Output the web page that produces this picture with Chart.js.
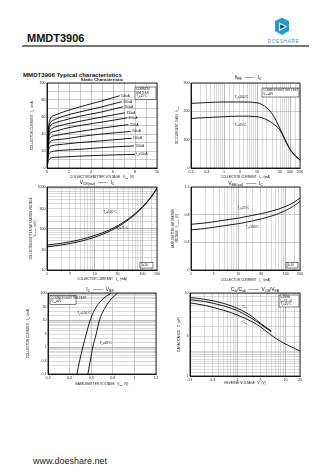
<!DOCTYPE html>
<html>
<head>
<meta charset="utf-8">
<script src="https://cdn.jsdelivr.net/npm/chart.js@4.4.1/dist/chart.umd.min.js"></script>
<style>
  body { margin: 0; width: 336px; height: 474px; background: #fff; position: relative; overflow: hidden;
         font-family: "Liberation Sans", Arial, sans-serif; color: #111; }
  .abs { position: absolute; line-height: 1; white-space: nowrap; }
  canvas { position: absolute; }
</style>
</head>
<body>
<div class="abs" style="left:27px;top:32.7px;font-size:11px;font-weight:bold">MMDT3906</div>
<div class="abs" style="left:22px;top:45.3px;width:287px;height:1.4px;background:#777"></div>
<svg class="abs" style="left:262px;top:17px" width="46" height="28" viewBox="0 0 46 28">
  <path d="M13 4 L20 0.8 L27 4 L27 14 L20 18 L13 14 Z" fill="#1e9fcf"/>
  <path d="M17 5.5 L25 9.5 L17 14 Z" fill="#fff"/>
  <path d="M18.2 7.2 L23 9.5 L18.2 12.2 Z" fill="#1d3f7a"/>
  <text x="21.5" y="25.5" font-size="4.6" fill="#3b8fd6" text-anchor="middle" letter-spacing="0.7" font-family="Liberation Sans, Arial">DOESHARE</text>
</svg>
<div class="abs" style="left:23px;top:72.3px;font-size:6.1px;font-weight:bold">MMDT3906 Typical characteristics</div>
<div class="abs" style="left:33px;top:457.4px;font-size:9px;color:#222">www.doeshare.net</div>

<canvas id="c1"></canvas>
<canvas id="c2"></canvas>
<canvas id="c3"></canvas>
<canvas id="c4"></canvas>
<canvas id="c5"></canvas>
<canvas id="c6"></canvas>

<script>
// ---- Static characteristic: IC (mA) vs VCE (V), one curve per IB ----
const ibNames = ['500uA', '450uA', '400uA', '350uA', '300uA', '250uA', '200uA', '150uA', '100uA', 'IB=50uA'];
const vceKnee = [0, 0.08, 0.15, 0.25, 0.4, 0.7, 1.5, 3, 5];
const vceEnd = [6.6, 6.8, 6.9, 7.1, 7.3, 7.4, 7.6, 7.7, 7.9, 8.0];
const ic500 = [0, 30, 48, 56, 60, 62, 66, 72, 79, 85];
const ic450 = [0, 28, 45, 52, 55, 57, 61, 66, 72, 78];
const ic400 = [0, 26, 42, 48, 51, 53, 56, 61, 66, 72];
const ic350 = [0, 24, 38, 44, 46, 48, 51, 55, 60, 65];
const ic300 = [0, 22, 34, 40, 42, 43, 46, 50, 54, 59];
const ic250 = [0, 20, 30, 35, 37, 38, 40, 43, 47, 51];
const ic200 = [0, 17, 26, 30, 32, 33, 34, 37, 40, 43];
const ic150 = [0, 14, 21, 25, 26, 27, 28, 30, 32, 35];
const ic100 = [0, 10, 15, 18, 19, 20, 21, 22, 24, 26];
const ic50 = [0, 6, 9, 11, 12, 12.5, 13, 14, 15, 16];
const staticCurves = [ic500, ic450, ic400, ic350, ic300, ic250, ic200, ic150, ic100, ic50];

// ---- hFE vs IC ----
const hfeIc = [0.1, 0.3, 1, 3, 10, 20, 30, 50, 70, 100, 150, 200];
const hfe100 = [228, 231, 233, 233, 230, 212, 188, 138, 100, 66, 41, 28];
const hfe25 = [175, 178, 181, 183, 181, 170, 157, 133, 100, 66, 41, 28];

// ---- VCE(sat) vs IC (mV) ----
const satIc = [1, 2, 5, 10, 20, 50, 100, 150, 200];
const vceSat100 = [40, 44, 54, 68, 92, 170, 340, 580, 950];
const vceSat25 = [36, 40, 49, 62, 85, 160, 325, 560, 920];

// ---- VBE(sat) vs IC (V) ----
const vbeSat25 = [0.66, 0.68, 0.72, 0.75, 0.79, 0.85, 0.92, 0.98, 1.04];
const vbeSat100 = [0.58, 0.60, 0.64, 0.67, 0.71, 0.78, 0.86, 0.93, 0.99];

// ---- IC vs VBE ----
const icVbe = [0.1, 0.3, 1, 3, 10, 30, 60, 100];
const vbe100 = [0.468, 0.492, 0.523, 0.554, 0.591, 0.646, 0.708, 0.785];
const vbe25 = [0.569, 0.591, 0.615, 0.646, 0.677, 0.732, 0.785, 0.846];

// ---- Capacitance vs reverse voltage ----
const vrIn = [0.1, 0.2, 0.5, 1, 2, 3, 5];
const cib = [8.8, 8.4, 7.5, 6.5, 5.2, 4.3, 3.5];
const cMid = [8.3, 7.9, 7.0, 6.1, 4.9, 4.2, 3.4];
const vrOut = [0.1, 0.2, 0.5, 1, 2, 3, 5, 8, 12, 20];
const cob = [7.6, 7.1, 6.2, 5.4, 4.5, 3.9, 3.1, 2.6, 2.3, 2.0];

// ---- tick labels ----
const c1xLabels = [0, 2, 4, 6, 8, 10];
const c1yLabels = [0, 20, 40, 60, 80, 100];
const c2xLabels = [0.1, 0.3, 1, 3, 10, 50, 100, 200];
const c2yLabels = [0, 100, 200, 300];
const c3xLabels = [1, 3, 10, 30, 100, 200];
const c3yLabels = [10, 30, 100, 300, 1000];
const c4yLabels = [0, 0.4, 0.8, 1.2];
const c5xLabels = [0.2, 0.4, 0.6, 0.8, 1.0, 1.2];
const c5yLabels = [0.1, 0.3, 1, 3, 10, 30, 100];
const c6xLabels = [0.1, 0.3, 1, 3, 10, 20];
const c6yLabels = [1, 3, 10];

Chart.defaults.font.family = '"Liberation Sans", Arial, sans-serif';
Chart.defaults.font.size = 3.6;
Chart.defaults.color = '#222';

const PL = 26, PT = 14, PR = 8, PB = 16;
const FONT = '"Liberation Sans", Arial, sans-serif';

// text with subscripts: a part starting with '_' is drawn as subscript
function rich(ctx, parts, x, y, size, align, bold) {
  const f = s => (bold ? 'bold ' : '') + s + 'px ' + FONT;
  let w = 0;
  parts.forEach(p => {
    const sub = p[0] === '_';
    ctx.font = f(sub ? size * 0.7 : size);
    w += ctx.measureText(sub ? p.slice(1) : p).width;
  });
  let cx = align === 'left' ? x : align === 'right' ? x - w : x - w / 2;
  ctx.textAlign = 'left';
  ctx.textBaseline = 'middle';
  parts.forEach(p => {
    const sub = p[0] === '_';
    const t = sub ? p.slice(1) : p;
    ctx.font = f(sub ? size * 0.7 : size);
    ctx.fillText(t, cx, sub ? y + size * 0.3 : y);
    cx += ctx.measureText(t).width;
  });
}

const overlays = {};

const overlayPlugin = {
  id: 'overlay',
  afterDatasetsDraw(chart) {
    const o = overlays[chart.canvas.id];
    const ctx = chart.ctx, a = chart.chartArea;
    const sx = chart.scales.x, sy = chart.scales.y;
    const cx = (a.left + a.right) / 2, cy = (a.top + a.bottom) / 2;
    ctx.save();
    ctx.strokeStyle = '#000';
    ctx.lineWidth = 0.8;
    ctx.strokeRect(a.left, a.top, a.right - a.left, a.bottom - a.top);
    ctx.fillStyle = '#111';
    rich(ctx, o.title, cx + o.titleDx, a.top - o.titleDy, o.titleSize, 'center', o.titleBold);
    rich(ctx, o.xTitle, cx, a.bottom + o.xDy, 3.2, 'center');
    o.yTitle.forEach((parts, i) => {
      ctx.save();
      ctx.translate(a.left - o.yDx[i], cy);
      ctx.rotate(-Math.PI / 2);
      rich(ctx, parts, 0, 0, o.ySize, 'center');
      ctx.restore();
    });
    const b = o.box;
    const bx = a.left + b.dx, by = a.top + b.dy;
    ctx.fillStyle = '#fff';
    ctx.fillRect(bx, by, b.w, b.h);
    ctx.lineWidth = 0.5;
    ctx.strokeRect(bx, by, b.w, b.h);
    ctx.fillStyle = '#111';
    b.lines.forEach((p, i) => rich(ctx, p, bx + 1.2, by + 2.4 + i * 3.6, 2.9, 'left'));
    o.labels.forEach(l => rich(ctx, l.parts, sx.getPixelForValue(l.x), sy.getPixelForValue(l.y), 3.1, 'left'));
    ctx.restore();
  }
};

const near = (v, list) => list.some(l => Math.abs(l - v) < 1e-6 * Math.max(1, Math.abs(l)));
const isDecade = v => { const lg = Math.log10(v); return Math.abs(lg - Math.round(lg)) < 1e-6; };

function axis(kind, type, min, max, labels, step) {
  const a = {
    type, min, max,
    afterFit: s => { if (kind === 'x') s.height = PB; else s.width = PL; },
    ticks: {
      autoSkip: false, maxRotation: 0, minRotation: 0, padding: 1.5,
      callback: v => near(v, labels) ? String(+(+v).toPrecision(6)) : ''
    },
    grid: {
      drawTicks: false, lineWidth: 0.5,
      color: c => type === 'logarithmic' ? (isDecade(c.tick.value) ? '#777' : '#b5b5b5') : '#999'
    },
    border: { display: true, color: '#000', width: 0.8 }
  };
  if (step) a.ticks.stepSize = step;
  return a;
}

function line(xs, ys) {
  return {
    data: xs.map((x, i) => ({ x, y: ys[i] })),
    borderColor: '#000', borderWidth: 0.9, pointRadius: 0, fill: false,
    cubicInterpolationMode: 'monotone'
  };
}

function makeChart(id, box, xAxis, yAxis, datasets, overlay) {
  const cv = document.getElementById(id);
  cv.width = box.w + PL + PR;
  cv.height = box.h + PT + PB;
  cv.style.left = (box.l - PL) + 'px';
  cv.style.top = (box.t - PT) + 'px';
  overlays[id] = overlay;
  return new Chart(cv, {
    type: 'line',
    data: { datasets },
    options: {
      responsive: false, animation: false, devicePixelRatio: 1,
      layout: { padding: { left: 0, top: PT, right: PR, bottom: 0 } },
      plugins: { legend: { display: false }, tooltip: { enabled: false } },
      scales: { x: xAxis, y: yAxis }
    },
    plugins: [overlayPlugin]
  });
}

// 1. Static characteristic
makeChart('c1', { l: 47, t: 83, w: 110, h: 85 },
  axis('x', 'linear', 0, 10, c1xLabels, 1),
  axis('y', 'linear', 0, 100, c1yLabels, 10),
  staticCurves.map((ys, i) => line([...vceKnee, vceEnd[i]], ys)),
  {
    title: ['Static Characteristic'], titleDx: 0, titleDy: 3, titleSize: 4.4, titleBold: true,
    xTitle: ['COLLECTOR-EMITTER VOLTAGE   V', '_CE', '  (V)'], xDy: 9.5,
    yTitle: [['COLLECTOR CURRENT   I', '_C', '  (mA)']], yDx: [14.5], ySize: 3.2,
    box: { dx: 88, dy: 4, w: 21, h: 12.5, lines: [['COMMON'], ['EMITTER'], ['T', '_a', '=25°C']] },
    labels: ibNames.map((n, i) => ({
      x: vceEnd[i] + 0.12, y: staticCurves[i][staticCurves[i].length - 1],
      parts: n.startsWith('IB') ? ['I', '_B', n.slice(2)] : [n]
    }))
  });

// 2. hFE vs IC
makeChart('c2', { l: 191, t: 83, w: 109, h: 85 },
  axis('x', 'logarithmic', 0.1, 200, c2xLabels),
  axis('y', 'linear', 0, 300, c2yLabels, 100),
  [line(hfeIc, hfe100), line(hfeIc, hfe25)],
  {
    title: ['h', '_FE', '  ——  I', '_C'], titleDx: 2.5, titleDy: 5, titleSize: 5,
    xTitle: ['COLLECTOR CURRENT   I', '_C', '  (mA)'], xDy: 8.7,
    yTitle: [['DC CURRENT GAIN   h', '_FE']], yDx: [14], ySize: 3.2,
    box: { dx: 71, dy: 5, w: 37, h: 9, lines: [['COMMON EMITTER TEST'], ['V', '_CE', '=6V']] },
    labels: [
      { x: 2.1, y: 250, parts: ['T', '_a', '=100°C'] },
      { x: 2.1, y: 152, parts: ['T', '_a', '=25°C'] }
    ]
  });

// 3. VCE(sat) vs IC
makeChart('c3', { l: 47, t: 187, w: 110, h: 83 },
  axis('x', 'logarithmic', 1, 200, c3xLabels),
  axis('y', 'logarithmic', 10, 1000, c3yLabels),
  [line(satIc, vceSat100), line(satIc, vceSat25)],
  {
    title: ['V', '_CE(sat)', '  ——  I', '_C'], titleDx: -5, titleDy: 4, titleSize: 5,
    xTitle: ['COLLECTOR CURRENT   I', '_C', '  (mA)'], xDy: 9,
    yTitle: [['COLLECTOR-EMITTER SATURATION VOLTAGE'], ['V', '_CE(sat)', '  (mV)']], yDx: [16, 12], ySize: 2.8,
    box: { dx: 93, dy: 75.5, w: 13, h: 5.5, lines: [['β=10']] },
    labels: [
      { x: 15, y: 250, parts: ['T', '_a', '=100°C'] },
      { x: 28, y: 100, parts: ['T', '_a', '=25°C'] }
    ]
  });

// 4. VBE(sat) vs IC
makeChart('c4', { l: 191, t: 187, w: 109, h: 83 },
  axis('x', 'logarithmic', 1, 200, c3xLabels),
  axis('y', 'linear', 0, 1.2, c4yLabels, 0.4),
  [line(satIc, vbeSat25), line(satIc, vbeSat100)],
  {
    title: ['V', '_BE(sat)', '  ——  I', '_C'], titleDx: 0, titleDy: 3.5, titleSize: 5,
    xTitle: ['COLLECTOR CURRENT   I', '_C', '  (mA)'], xDy: 10,
    yTitle: [['BASE-EMITTER SATURATION'], ['VOLTAGE   V', '_BE(sat)', '  (V)']], yDx: [17.5, 13.5], ySize: 2.8,
    box: { dx: 95, dy: 75.5, w: 12, h: 5.5, lines: [['β=10']] },
    labels: [
      { x: 9.5, y: 0.89, parts: ['T', '_a', '=25°C'] },
      { x: 14, y: 0.62, parts: ['T', '_a', '=100°C'] }
    ]
  });

// 5. IC vs VBE
makeChart('c5', { l: 48, t: 293, w: 108, h: 81 },
  axis('x', 'linear', 0.2, 1.2, c5xLabels, 0.2),
  axis('y', 'logarithmic', 0.1, 100, c5yLabels),
  [line(vbe100, icVbe), line(vbe25, icVbe)],
  {
    title: ['I', '_C', '  ——  V', '_BE'], titleDx: -2, titleDy: 3, titleSize: 5,
    xTitle: ['BASE-EMITTER VOLTAGE   V', '_BE', '  (V)'], xDy: 10.5,
    yTitle: [['COLLECTOR CURRENT   I', '_C', '  (mA)']], yDx: [20], ySize: 3.2,
    box: { dx: 2, dy: 2.5, w: 26, h: 9, lines: [['COMMON EMITTER TEST'], ['V', '_CE', '=6V']] },
    labels: [
      { x: 0.47, y: 18, parts: ['T', '_a', '=100°C'] },
      { x: 0.68, y: 1.4, parts: ['T', '_a', '=25°C'] }
    ]
  });

// 6. Capacitance
makeChart('c6', { l: 190, t: 293, w: 110, h: 83 },
  axis('x', 'logarithmic', 0.1, 20, c6xLabels),
  axis('y', 'logarithmic', 1, 10, c6yLabels),
  [line(vrIn, cib), line(vrIn, cMid), line(vrOut, cob)],
  {
    title: ['C', '_ib', '/C', '_ob', '  ——  V', '_CB', '/V', '_EB'], titleDx: 10, titleDy: 3, titleSize: 5,
    xTitle: ['REVERSE VOLTAGE   V  (V)'], xDy: 7,
    yTitle: [['CAPACITANCE   C  (pF)']], yDx: [11], ySize: 3.2,
    box: { dx: 89, dy: 2, w: 20, h: 12, lines: [['f=1MHz'], ['I', '_E', '=0/I', '_C', '=0'], ['T', '_a', '=25°C']] },
    labels: [
      { x: 1.25, y: 6.8, parts: ['C', '_ib'] },
      { x: 1.25, y: 4.4, parts: ['C', '_ob'] }
    ]
  });
</script>
</body>
</html>
